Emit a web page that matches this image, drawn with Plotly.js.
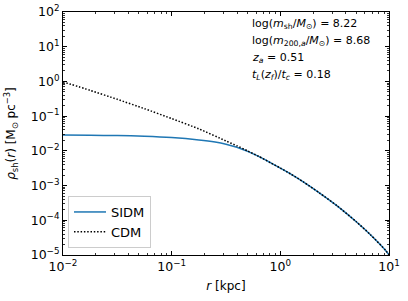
<!DOCTYPE html>
<html><head><meta charset="utf-8">
<script src="https://cdn.plot.ly/plotly-3.0.1.min.js"></script>
<style>body{margin:0;background:#fff}#chart{width:408px;height:301px}</style>
</head><body><div id="chart"></div>
<script>
// radius in kpc
const r_cdm = [0.01, 0.0178, 0.0316, 0.0562, 0.1, 0.178, 0.316, 0.398, 0.5, 0.631, 0.81, 1.0, 1.24, 1.64, 2.3, 3.33, 5.0, 6.75, 9.27, 10.0];
const rho_cdm = [0.97, 0.553, 0.305, 0.164, 0.085, 0.043, 0.0193, 0.0140, 0.0100, 0.00697, 0.00457, 0.00320, 0.00218, 0.00126, 0.000610, 0.000261, 0.0000906, 0.0000385, 0.0000138, 0.0000102];
const r_sidm = [0.01, 0.0178, 0.0316, 0.0562, 0.1, 0.178, 0.251, 0.316, 0.398, 0.5, 0.631, 0.81, 1.0, 1.24, 1.64, 2.3, 3.33, 5.0, 6.75, 9.27, 10.0];
const rho_sidm = [0.0285, 0.0281, 0.0276, 0.0264, 0.0242, 0.0207, 0.0180, 0.0156, 0.0127, 0.0097, 0.00690, 0.00457, 0.00320, 0.00218, 0.00126, 0.000610, 0.000261, 0.0000906, 0.0000385, 0.0000138, 0.0000102];
const xTickVals = [0.01, 0.1, 1, 10];
const xTickText = ['10<sup>−2</sup>', '10<sup>−1</sup>', '10<sup>0</sup>', '10<sup>1</sup>'];
const yTickVals = [1e-5, 1e-4, 1e-3, 1e-2, 1e-1, 1, 10, 100];
const yTickText = ['10<sup>−5</sup>', '10<sup>−4</sup>', '10<sup>−3</sup>', '10<sup>−2</sup>', '10<sup>−1</sup>', '10<sup>0</sup>', '10<sup>1</sup>', '10<sup>2</sup>'];
const infoLines = [
  'log(<i>m</i><sub>sh</sub>/<i>M</i><sub>⊙</sub>) = 8.22',
  'log(<i>m</i><sub>200,<i>a</i></sub>/<i>M</i><sub>⊙</sub>) = 8.68',
  '<i>z</i><sub><i>a</i></sub> = 0.51',
  '<i>t</i><sub><i>L</i></sub>(<i>z</i><sub><i>f</i></sub>)/<i>t</i><sub><i>c</i></sub> = 0.18'
];

const font = {family: 'DejaVu Sans', color: '#000'};
const traces = [
  {x: r_sidm, y: rho_sidm, name: 'SIDM', mode: 'lines', line: {color: '#1f77b4', width: 1.5, shape: 'spline', smoothing: 0.6}},
  {x: r_cdm, y: rho_cdm, name: 'CDM', mode: 'lines', line: {color: '#000', width: 1.5, dash: '1.5px,1.8px', shape: 'spline', smoothing: 0.6}}
];
const axisCommon = {
  type: 'log', showline: true, linecolor: '#000', linewidth: 1, mirror: 'ticks',
  ticks: 'inside', ticklen: 4, tickwidth: 1, tickcolor: '#000', showgrid: false, zeroline: false,
  tickfont: {family: 'DejaVu Sans', size: 12.5, color: '#000'},
  minor: {ticks: 'inside', ticklen: 2, tickwidth: 0.8, tickcolor: '#000', dtick: 'D1', showgrid: false}
};
const ann = infoLines.map((t, i) => ({
  text: t, xref: 'paper', yref: 'paper', x: (250 - 63) / 326, y: 1 - (24 + 17 * i - 12) / 243,
  xanchor: 'left', yanchor: 'middle', showarrow: false, font: {family: 'DejaVu Sans', size: 11, color: '#000'}
}));
const layout = {
  width: 408, height: 301, margin: {l: 63, r: 19, t: 12, b: 46},
  paper_bgcolor: '#fff', plot_bgcolor: '#fff', font: font, showlegend: true,
  xaxis: Object.assign({}, axisCommon, {range: [-2, 1], tickvals: xTickVals, ticktext: xTickText,
    title: {text: '<i>r</i> [kpc]', font: {family: 'DejaVu Sans', size: 12, color: '#000'}, standoff: 8}}),
  yaxis: Object.assign({}, axisCommon, {range: [-5, 2], tickvals: yTickVals, ticktext: yTickText,
    title: {text: '<i>ρ</i><sub>sh</sub>(<i>r</i>) [M<sub>⊙</sub> pc<sup>−3</sup>]', font: {family: 'DejaVu Sans', size: 12, color: '#000'}, standoff: 12}}),
  legend: {x: 5 / 326, y: 7 / 243, xanchor: 'left', yanchor: 'bottom', bgcolor: 'rgba(255,255,255,0.8)',
    bordercolor: '#ccc', borderwidth: 1, itemwidth: 32, tracegroupgap: 0,
    font: {family: 'DejaVu Sans', size: 13, color: '#000'}},
  annotations: ann
};
Plotly.newPlot('chart', traces, layout, {staticPlot: true, displayModeBar: false});
</script></body></html>
